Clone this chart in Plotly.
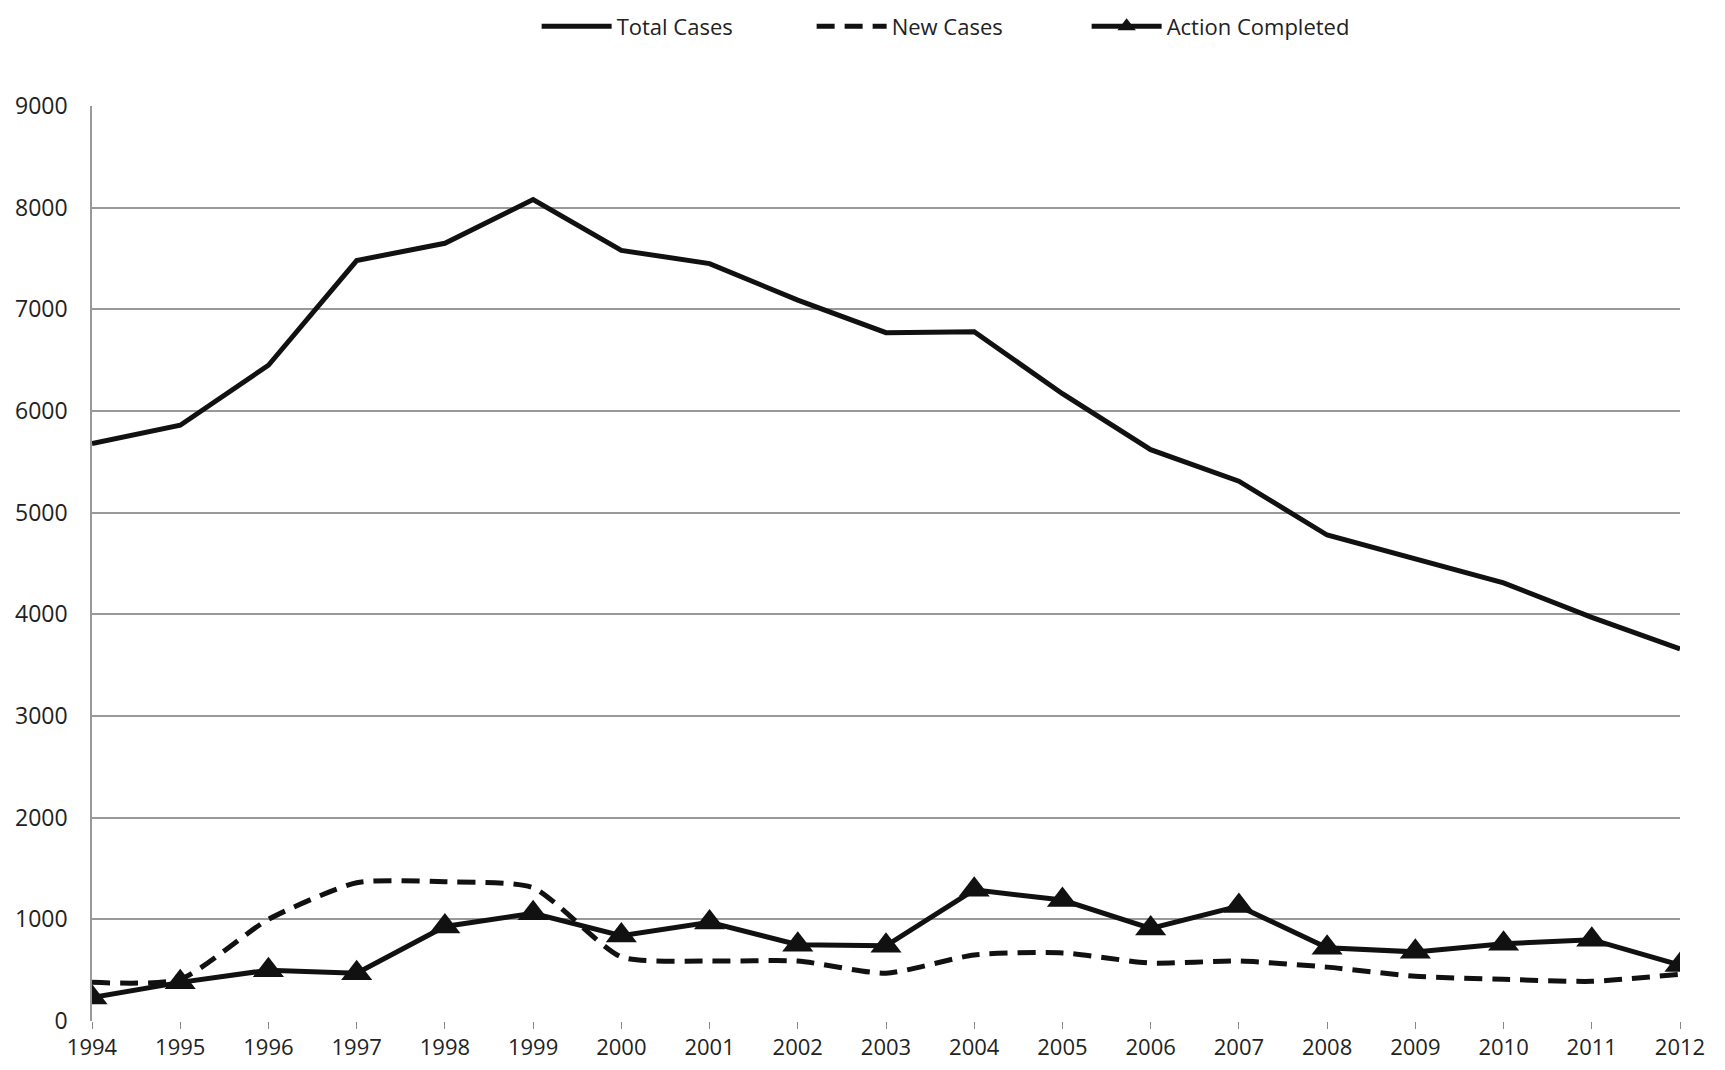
import plotly.graph_objects as go

years = list(range(1994, 2013))
total_cases = [5680, 5860, 6450, 7480, 7650, 8080, 7580, 7450, 7090, 6770,
               6780, 6170, 5620, 5310, 4780, 4550, 4310, 3970, 3660]
new_cases = [380, 410, 1000, 1360, 1370, 1310, 630, 590, 590, 470,
             650, 670, 570, 590, 530, 440, 410, 390, 460]
action_completed = [230, 380, 500, 470, 930, 1060, 840, 970, 750, 740,
                    1290, 1190, 910, 1130, 720, 680, 760, 800, 550]
y_ticks = [0, 1000, 2000, 3000, 4000, 5000, 6000, 7000, 8000, 9000]

fig = go.Figure()
fig.add_trace(go.Scatter(x=years, y=total_cases, name="Total Cases", mode="lines",
                         line=dict(color="#111111", width=5)))
fig.add_trace(go.Scatter(x=years, y=new_cases, name="New Cases", mode="lines",
                         line=dict(color="#111111", width=5, dash="18px,10px",
                                   shape="spline", smoothing=0.6)))
fig.add_trace(go.Scatter(x=years, y=action_completed, name="Action Completed",
                         mode="lines+markers",
                         line=dict(color="#111111", width=5),
                         marker=dict(symbol="triangle-up", size=27, color="#111111")))

fig.update_layout(
    width=1709, height=1054,
    margin=dict(l=84, r=37, t=98, b=41, autoexpand=False),
    paper_bgcolor="white", plot_bgcolor="white",
    font=dict(family="Open Sans", size=23, color="#222222"),
    showlegend=True,
    legend=dict(orientation="h", x=0.280, xanchor="left", y=1.087, yanchor="middle",
                font=dict(size=22), itemwidth=70, bgcolor="rgba(0,0,0,0)",
                entrywidth=190, entrywidthmode="pixels", tracegroupgap=0),
    xaxis=dict(range=[1994, 2012], tickmode="array", tickvals=years,
               ticktext=[str(y) for y in years], showgrid=False,
               ticks="outside", ticklen=7, tickcolor="#888888",
               ticklabelstandoff=0,
               showline=False, zeroline=False, tickfont=dict(size=22)),
    yaxis=dict(range=[0, 9000], tickmode="array", tickvals=y_ticks,
               showgrid=True, gridcolor="#999999", gridwidth=1.5,
               showline=True, linecolor="#999999", linewidth=1.5,
               ticklabelstandoff=18,
               zeroline=False, ticks="", tickfont=dict(size=23)),
)

fig.write_html("out.html")
